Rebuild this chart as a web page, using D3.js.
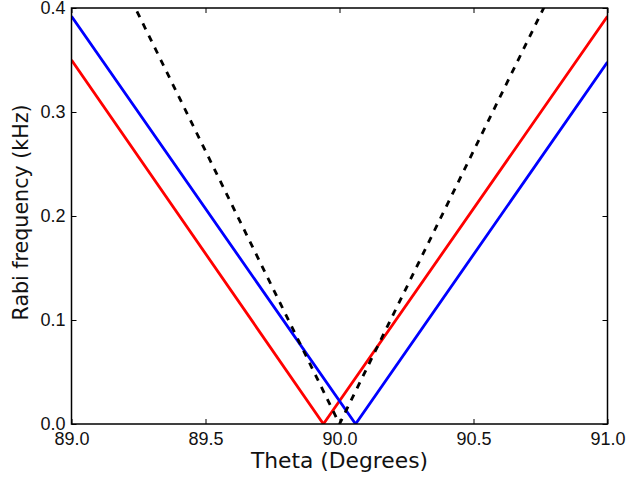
<!DOCTYPE html>
<html>
<head>
<meta charset="utf-8">
<script src="https://cdn.jsdelivr.net/npm/d3@7"></script>
<style>
  html, body { margin: 0; padding: 0; background: #fff; }
  svg { display: block; font-family: "DejaVu Sans", sans-serif; }
</style>
</head>
<body>
<svg id="chart" width="629" height="477"></svg>
<script>
// Rabi frequency vs. angle: three V-shaped curves
const redTheta   = [89.0, 89.94, 91.0];
const redRabi    = [0.350, 0.0, 0.392];
const blueTheta  = [89.0, 90.06, 91.0];
const blueRabi   = [0.392, 0.0, 0.348];
const blackTheta = [89.0, 90.0, 91.0];
const blackRabi  = [0.525, 0.0, 0.525];

const xTicks = [89.0, 89.5, 90.0, 90.5, 91.0];
const yTicks = [0.0, 0.1, 0.2, 0.3, 0.4];

const svg = d3.select("#chart");
const plotLeft = 71.5, plotRight = 607.5, plotTop = 8, plotBottom = 424;

const x = d3.scaleLinear().domain([89, 91]).range([plotLeft, plotRight]);
const y = d3.scaleLinear().domain([0, 0.4]).range([plotBottom, plotTop]);

svg.append("defs").append("clipPath").attr("id", "plotClip")
  .append("rect").attr("x", plotLeft).attr("y", plotTop)
  .attr("width", plotRight - plotLeft).attr("height", plotBottom - plotTop);

const line = d3.line().x(d => x(d[0])).y(d => y(d[1]));
const zip = (a, b) => a.map((v, i) => [v, b[i]]);

const curves = [
  { data: zip(redTheta, redRabi), color: "#ff0000", dash: null },
  { data: zip(blueTheta, blueRabi), color: "#0000ff", dash: null },
  { data: zip(blackTheta, blackRabi), color: "#000000", dash: "6.5,7" }
];

const g = svg.append("g").attr("clip-path", "url(#plotClip)");
curves.forEach(c => {
  g.append("path")
    .attr("d", line(c.data))
    .attr("fill", "none")
    .attr("stroke", c.color)
    .attr("stroke-width", 2.8)
    .attr("stroke-dasharray", c.dash);
});

// inward ticks on all four sides
const tickLen = 5;
const fmt = d3.format(".1f");
const axB = d3.axisBottom(x).tickValues(xTicks).tickSizeInner(-tickLen).tickSizeOuter(0).tickPadding(8).tickFormat(fmt);
const axT = d3.axisTop(x).tickValues(xTicks).tickSizeInner(-tickLen).tickSizeOuter(0).tickFormat("");
const axL = d3.axisLeft(y).tickValues(yTicks).tickSizeInner(-tickLen).tickSizeOuter(0).tickPadding(6).tickFormat(fmt);
const axR = d3.axisRight(y).tickValues(yTicks).tickSizeInner(-tickLen).tickSizeOuter(0).tickFormat("");

function style(sel) {
  sel.select(".domain").remove();
  sel.selectAll("line").attr("stroke", "#000").attr("stroke-width", 1);
  sel.selectAll("text").attr("fill", "#111").style("font-size", "18px");
}
svg.append("g").attr("transform", `translate(0,${plotBottom})`).call(axB).call(style);
svg.append("g").attr("transform", `translate(0,${plotTop})`).call(axT).call(style);
svg.append("g").attr("transform", `translate(${plotLeft},0)`).call(axL).call(style);
svg.append("g").attr("transform", `translate(${plotRight},0)`).call(axR).call(style);

// frame
svg.append("rect")
  .attr("x", plotLeft).attr("y", plotTop)
  .attr("width", plotRight - plotLeft).attr("height", plotBottom - plotTop)
  .attr("fill", "none").attr("stroke", "#000").attr("stroke-width", 1.5);

// axis titles
svg.append("text")
  .attr("x", 339.5).attr("y", 468)
  .attr("text-anchor", "middle").style("font-size", "21.8px").attr("fill", "#111")
  .text("Theta (Degrees)");
svg.append("text")
  .attr("transform", `translate(28,212.5) rotate(-90)`)
  .attr("text-anchor", "middle").style("font-size", "20.6px").attr("fill", "#111")
  .text("Rabi frequency (kHz)");
</script>
</body>
</html>
